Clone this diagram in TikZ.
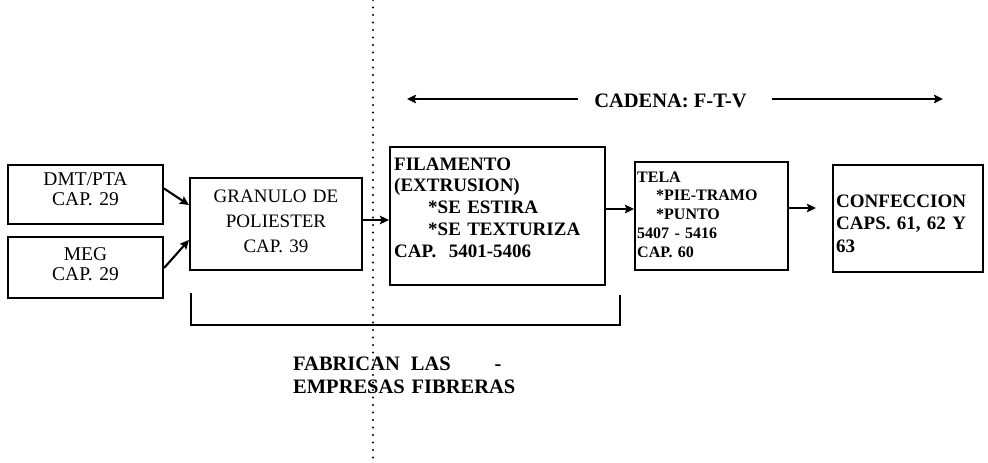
\documentclass[tikz,border=0pt]{standalone}
\usepackage{fontspec}
\setmainfont{Liberation Serif}
\usetikzlibrary{arrows.meta,calc}
\begin{document}
\begin{tikzpicture}[x=1pt,y=-1pt,
  box/.style={draw, line width=2.1pt, inner sep=0pt},
  arr/.style={line width=2.1pt, -{Stealth[length=9pt,width=8.5pt,inset=1.5pt]}},
  txt/.style={inner sep=0pt, anchor=base},
  txtl/.style={inner sep=0pt, anchor=base west, align=left},
  sep/.style={line width=2.2pt, line cap=round, dash pattern=on 0pt off 7.5pt},
  brace/.style={line width=2.1pt}]
\fill[white] (0,0) rectangle (988,463);
\useasboundingbox (0,0) rectangle (988,463);

% boxes
\node[box, minimum width=155pt, minimum height=59pt] (dmt) at (85.5,194.5) {};
\node[box, minimum width=155pt, minimum height=61pt] (meg) at (85.5,267.5) {};
\node[box, minimum width=172pt, minimum height=92pt] (granulo) at (276,224) {};
\node[box, minimum width=215pt, minimum height=138pt] (fil) at (497.5,216) {};
\node[box, minimum width=153pt, minimum height=108pt] (tela) at (711.5,216) {};
\node[box, minimum width=150pt, minimum height=107pt] (conf) at (908,218.5) {};

% texts
\node[txt, text width=150pt, align=center, font=\fontsize{19.5}{20}\selectfont] (dmtt) at (85.5,185) {DMT/PTA\\CAP. 29};
\node[txt, text width=150pt, align=center, font=\fontsize{19.5}{20}\selectfont] (megt) at (85.5,260) {MEG\\CAP. 29};
\node[txt, text width=165pt, align=center, font=\fontsize{19}{25}\selectfont] (grant) at (276,202) {GRANULO DE\\POLIESTER\\CAP. 39};
\node[txtl, text width=210pt, font=\bfseries\fontsize{19}{21.75}\selectfont] (filt) at (394,170)
  {FILAMENTO\\(EXTRUSION)\\\hspace*{34pt}*SE ESTIRA\\\hspace*{34pt}*SE TEXTURIZA\\CAP.\ \ 5401-5406};
\node[txtl, text width=148pt, font=\bfseries\fontsize{16}{18.75}\selectfont] (telat) at (637,182)
  {TELA\\\hspace*{19pt}*PIE-TRAMO\\\hspace*{19pt}*PUNTO\\5407 - 5416\\CAP. 60};
\node[txtl, text width=145pt, font=\bfseries\fontsize{19}{22.5}\selectfont] (conft) at (836,207)
  {CONFECCION\\CAPS. 61, 62 Y\\63};

\node[txt, font=\bfseries\fontsize{20.5}{23}\selectfont] (cadena) at (670.5,107) {CADENA: F-T-V};
\node[txtl, text width=240pt, font=\bfseries\fontsize{20.5}{23}\selectfont] (fab) at (293,370)
  {FABRICAN\hspace{11pt}LAS\hspace{44pt}-\\EMPRESAS FIBRERAS};

% connectors
\draw[arr] ($(dmt.east)+(0,-6)$) -- ($(granulo.west)+(0,-19)$);
\draw[arr] ($(meg.east)+(0,0.5)$) -- ($(granulo.west)+(0,16)$);
\draw[arr] ($(granulo.east)+(0,-4)$) -- ($(fil.west)+(0,4)$);
\draw[arr] ($(fil.east)+(0,-7)$) -- ($(tela.west)+(0,-7)$);
\draw[arr] ($(tela.east)+(0,-8)$) -- ($(conf.west)+(-16,-10.5)$);

\coordinate (cl) at (407,99);
\coordinate (cr) at (943,99);
\draw[arr] ($(cadena.west |- cl)+(-16,0)$) -- (cl);
\draw[arr] ($(cadena.east |- cr)+(25,0)$) -- (cr);

% bracket and separator
\draw[brace] (191,293) -- (191,325) -- (620,325) -- (620,295);
\draw[sep] (373,0) -- (373,463);
\end{tikzpicture}
\end{document}
